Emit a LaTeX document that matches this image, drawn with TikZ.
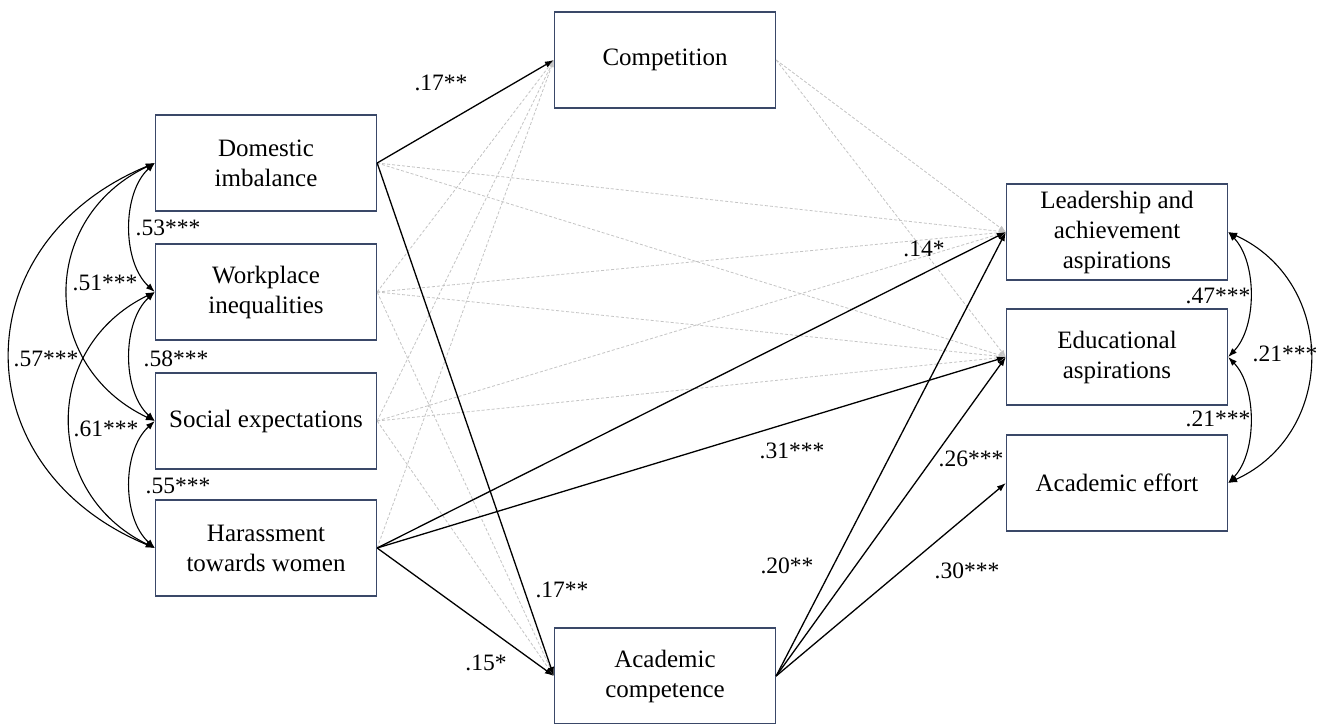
\documentclass[tikz,border=0pt]{standalone}
\usepackage{fontspec}
\setmainfont{Liberation Serif}
\usetikzlibrary{arrows.meta,calc}
\definecolor{boxcol}{HTML}{3A4868}
\definecolor{dashcol}{HTML}{C4C4C4}
\begin{document}
\begin{tikzpicture}[x=1pt,y=-1pt,
  box/.style={draw=boxcol, line width=1.3pt, fill=white, minimum width=221pt, minimum height=96pt, inner sep=0pt, align=center, font=\fontsize{25}{30}\selectfont},
  sig/.style={line width=1.3pt, -{Latex[length=9pt,width=6.5pt]}},
  ns/.style={draw=dashcol, line width=0.8pt, dash pattern=on 3pt off 2pt, -{Latex[length=7pt,width=5pt]}},
  cov/.style={line width=1.1pt, {Latex[length=9pt,width=6.5pt]}-{Latex[length=9pt,width=6.5pt]}},
  lab/.style={font=\fontsize{23.5}{28}\selectfont, inner sep=0pt}]
\useasboundingbox[fill=white] (0,0) rectangle (1325,723);

% nodes
\node[box] (dom)  at (266,163) {Domestic\\imbalance};
\node[box] (work) at (266,292) {Workplace\\inequalities};
\node[box] (soc)  at (266,421) {Social expectations};
\node[box] (har)  at (266,548) {Harassment\\towards women};
\node[box] (comp) at (665,60)  {Competition};
\node[box] (acad) at (665,676) {Academic\\competence};
\node[box] (lead) at (1117,232) {Leadership and\\achievement\\aspirations};
\node[box] (edu)  at (1117,357) {Educational\\aspirations};
\node[box] (eff)  at (1117,483) {Academic effort};

% non-significant paths
\draw[ns] (dom.east) -- (lead.west);
\draw[ns] (dom.east) -- (edu.west);
\draw[ns] (work.east) -- (comp.west);
\draw[ns] (work.east) -- (lead.west);
\draw[ns] (work.east) -- (edu.west);
\draw[ns] (work.east) -- (acad.west);
\draw[ns] (soc.east) -- (comp.west);
\draw[ns] (soc.east) -- (lead.west);
\draw[ns] (soc.east) -- (edu.west);
\draw[ns] (soc.east) -- (acad.west);
\draw[ns] (har.east) -- (comp.west);
\draw[ns] (comp.east) -- (lead.west);
\draw[ns] (comp.east) -- (edu.west);

% significant paths
\draw[sig] (dom.east) -- (comp.west);
\draw[sig] (dom.east) -- (acad.west);
\draw[sig] (har.east) -- (lead.west);
\draw[sig] (har.east) -- (edu.west);
\draw[sig] (har.east) -- (acad.west);
\draw[sig] (acad.east) -- (lead.west);
\draw[sig] (acad.east) -- (edu.west);
\draw[sig] (acad.east) -- (eff.west);

% covariances left
\draw[cov] (dom.west) .. controls ($(dom.west)+(-33,30)$) and ($(work.west)+(-33,-30)$) .. (work.west);
\draw[cov] (work.west) .. controls ($(work.west)+(-33,30)$) and ($(soc.west)+(-33,-30)$) .. (soc.west);
\draw[cov] (soc.west) .. controls ($(soc.west)+(-33,30)$) and ($(har.west)+(-33,-30)$) .. (har.west);
\draw[cov] (dom.west) .. controls ($(dom.west)+(-116,55)$) and ($(soc.west)+(-116,-55)$) .. (soc.west);
\draw[cov] (work.west) .. controls ($(work.west)+(-113,55)$) and ($(har.west)+(-113,-55)$) .. (har.west);
\draw[cov] (dom.west) .. controls ($(dom.west)+(-193,80)$) and ($(har.west)+(-193,-80)$) .. (har.west);

% covariances right
\draw[cov] (lead.east) .. controls ($(lead.east)+(29,30)$) and ($(edu.east)+(29,-30)$) .. (edu.east);
\draw[cov] (edu.east) .. controls ($(edu.east)+(29,30)$) and ($(eff.east)+(29,-30)$) .. (eff.east);
\draw[cov] (lead.east) .. controls ($(lead.east)+(109,50)$) and ($(eff.east)+(109,-50)$) .. (eff.east);

% labels
\node[lab] (l1)  at (441,83)  {.17**};
\node[lab] (l2)  at (562,590) {.17**};
\node[lab] (l3)  at (486,663) {.15*};
\node[lab] (l4)  at (924,249) {.14*};
\node[lab] (l5)  at (792,451) {.31***};
\node[lab] (l6)  at (971,459) {.26***};
\node[lab] (l7)  at (787,566) {.20**};
\node[lab] (l8)  at (967,571) {.30***};
\node[lab] (l9)  at (168,228) {.53***};
\node[lab] (l10) at (105,283) {.51***};
\node[lab] (l11) at (46,359)  {.57***};
\node[lab] (l12) at (176,359) {.58***};
\node[lab] (l13) at (106,429) {.61***};
\node[lab] (l14) at (178,486) {.55***};
\node[lab] (l15) at (1218,296) {.47***};
\node[lab] (l16) at (1285,354) {.21***};
\node[lab] (l17) at (1218,419) {.21***};
\end{tikzpicture}
\end{document}
